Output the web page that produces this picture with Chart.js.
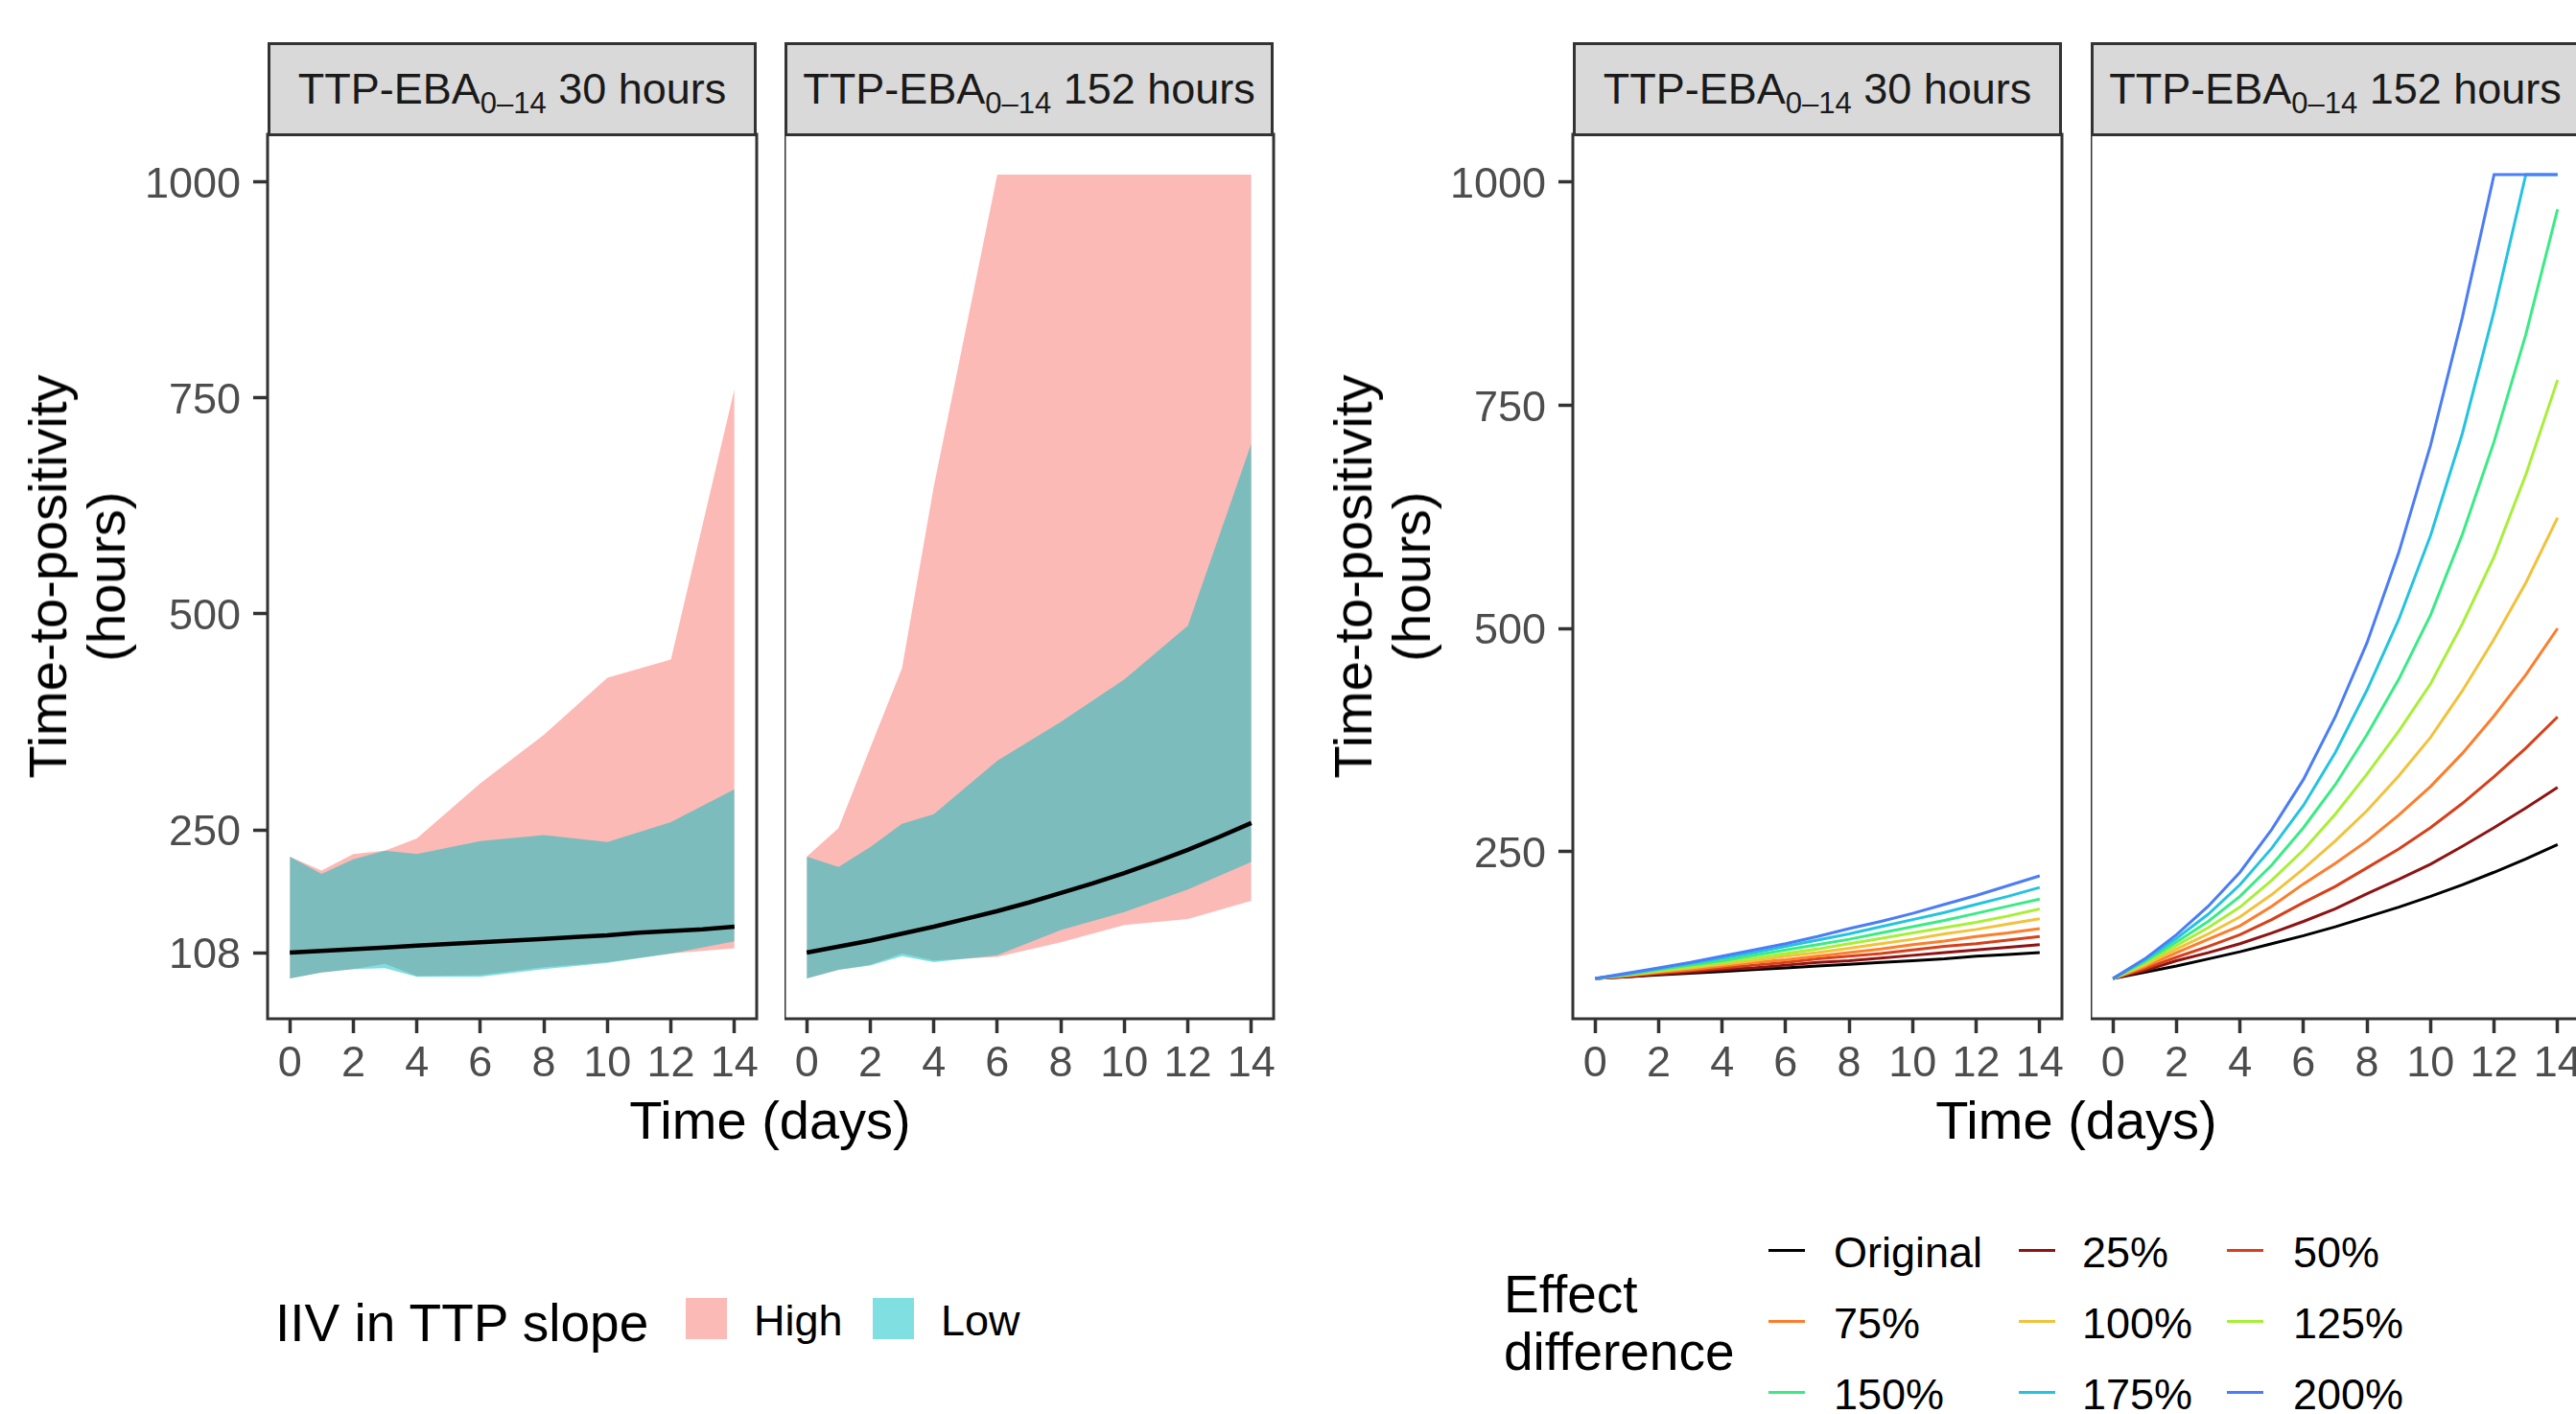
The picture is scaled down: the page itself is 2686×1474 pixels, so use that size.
<!DOCTYPE html>
<html>
<head>
<meta charset="utf-8">
<script src="https://cdn.jsdelivr.net/npm/chart.js@4.4.1/dist/chart.umd.min.js"></script>
<style>
  html, body { margin: 0; padding: 0; background: #fff; }
  #page { position: relative; width: 2686px; height: 1474px; overflow: hidden; font-family: "Liberation Sans", Arial, sans-serif; }
  canvas { position: absolute; }
  .strip { position: absolute; box-sizing: border-box; background: #D9D9D9; border: 3px solid #333333; color: #1A1A1A;
           font-size: 45px; text-align: center; white-space: nowrap; }
  .strip span { display: inline-block; }
  .strip sub { font-size: 31px; vertical-align: -0.33em; line-height: 0; }
  .txt { position: absolute; white-space: nowrap; color: #000; line-height: 1; }
  .ytitle { position: absolute; font-size: 56px; line-height: 61px; text-align: center; white-space: nowrap;
            transform: translate(-50%, -50%) rotate(-90deg); }
  .xtitle { position: absolute; font-size: 56px; line-height: 1; white-space: nowrap; transform: translateX(-50%); }
  .key { position: absolute; }
</style>
</head>
<body>
<div id="page">
  <canvas id="p1"></canvas>
  <canvas id="p2"></canvas>
  <canvas id="p3"></canvas>
  <canvas id="p4"></canvas>
</div>
<script>
// ---- data ----
const BAND_DAYS = [0, 1, 2, 3, 4, 6, 8, 10, 12, 14];
const LINE_DAYS = [0, 1, 2, 3, 4, 5, 6, 7, 8, 9, 10, 11, 12, 13, 14];
const X_TICKS = [0, 2, 4, 6, 8, 10, 12, 14];
const Y_TICKS_LEFT = [108, 250, 500, 750, 1000];
const Y_TICKS_RIGHT = [250, 500, 750, 1000];
const PANEL_NAMES = ['30 hours', '152 hours'];

// IIV in TTP slope, TTP-EBA 30 hours
const HIGH_LO_30 = [78, 85, 89, 95, 81, 82, 91, 97, 107, 113];
const HIGH_HI_30 = [219, 203, 222, 226, 240, 304, 360, 426, 447, 760];
const LOW_LO_30 = [78, 85, 89, 90, 80, 80, 89, 96, 107, 121];
const LOW_HI_30 = [219, 199, 216, 226, 222, 237, 244, 236, 259, 297];
const MEDIAN_30 = [108, 110, 112, 114, 116, 118, 120, 122, 124, 126, 128, 131, 133, 135, 138];

// IIV in TTP slope, TTP-EBA 152 hours
const HIGH_LO_152 = [78, 88, 94, 107, 99, 103, 120, 140, 147, 168];
const HIGH_HI_152 = [219, 252, 345, 437, 647, 1008, 1008, 1008, 1008, 1008];
const LOW_LO_152 = [78, 88, 93, 104, 97, 105, 134, 155, 181, 213];
const LOW_HI_152 = [219, 207, 230, 257, 268, 330, 375, 424, 486, 697];
const MEDIAN_152 = [108, 115, 122, 130, 138, 147, 156, 166, 177, 188, 200, 213, 227, 242, 258];

const IIV_LABELS = ['High', 'Low'];

// Effect difference lines
const EFFECT_LABELS = ['Original', '25%', '50%', '75%', '100%', '125%', '150%', '175%', '200%'];
const EFFECT_30 = [
  [108, 110, 112, 114, 116, 118, 120, 122, 124, 126, 128, 130, 133, 135, 137],
  [108, 110, 113, 115, 118, 120, 123, 126, 128, 131, 134, 137, 140, 143, 146],
  [108, 111, 114, 117, 120, 123, 126, 130, 133, 136, 140, 144, 147, 151, 155],
  [108, 111, 115, 118, 122, 126, 129, 133, 137, 141, 146, 150, 155, 159, 164],
  [108, 112, 116, 120, 124, 128, 133, 137, 142, 147, 152, 158, 163, 169, 175],
  [108, 112, 117, 121, 126, 131, 136, 141, 147, 153, 159, 165, 171, 178, 186],
  [108, 113, 118, 123, 128, 134, 140, 146, 152, 159, 166, 173, 181, 189, 197],
  [108, 113, 119, 125, 131, 137, 144, 151, 158, 166, 174, 182, 191, 200, 210],
  [108, 114, 120, 126, 133, 140, 147, 155, 164, 172, 181, 191, 201, 212, 223]
];
const EFFECT_152 = [
  [108, 115, 122, 130, 138, 147, 156, 166, 177, 188, 200, 213, 227, 242, 258],
  [108, 117, 128, 137, 147, 159, 172, 186, 203, 219, 236, 256, 277, 299, 322],
  [108, 119, 132, 144, 157, 174, 193, 211, 232, 253, 277, 304, 334, 366, 401],
  [108, 121, 137, 152, 167, 189, 214, 237, 262, 291, 323, 360, 402, 448, 500],
  [108, 123, 141, 158, 177, 202, 231, 262, 296, 335, 378, 430, 488, 551, 624],
  [108, 125, 145, 165, 188, 218, 252, 292, 337, 385, 438, 505, 580, 672, 778],
  [108, 127, 149, 172, 200, 235, 277, 325, 381, 443, 515, 605, 709, 829, 969],
  [108, 129, 153, 180, 213, 254, 302, 361, 431, 510, 604, 718, 855, 1008, 1008],
  [108, 130, 157, 189, 227, 275, 331, 401, 484, 585, 705, 848, 1008, 1008, 1008]
];

// ---- styles / layout ----
const FONT = '"Liberation Sans", Arial, sans-serif';
const PINK = 'rgba(248, 118, 109, 0.5)';
const TEAL = 'rgba(0, 191, 196, 0.5)';
const EFFECT_COLORS = ['#000000', '#8E1313', '#D6401A', '#FD7E2C', '#F2C23C', '#A8EF38', '#3AEB85', '#25C3E0', '#4A7DF6'];
const FRAME = '#333333';

const PLOT_TOP = 140, PLOT_W = 510, PLOT_H = 922;
const PAD_T = 60, PAD_R = 40, X_H = 90, Y_W = 150;
const LEFTS = [279, 818, 1640, 2180];

function pts(xs, ys) {
  return ys.map((y, i) => ({ x: xs[i], y: y }));
}

const panelBox = {
  id: 'panelBox',
  afterDraw(chart) {
    const { ctx, chartArea: a } = chart;
    ctx.save();
    ctx.strokeStyle = FRAME;
    ctx.lineWidth = 3;
    ctx.strokeRect(a.left, a.top, a.right - a.left, a.bottom - a.top);
    ctx.restore();
  }
};

function makePanel(idx, showY, yMin, yMax, yTicks, datasets) {
  const canvas = document.getElementById('p' + (idx + 1));
  const yW = showY ? Y_W : 0;
  canvas.width = yW + PLOT_W + PAD_R;
  canvas.height = PAD_T + PLOT_H + X_H;
  canvas.style.left = (LEFTS[idx] - yW) + 'px';
  canvas.style.top = (PLOT_TOP - PAD_T) + 'px';

  const tickGrid = {
    display: true,
    drawOnChartArea: false,
    drawTicks: true,
    tickLength: 15,
    tickWidth: 3.5,
    tickColor: FRAME
  };

  new Chart(canvas, {
    type: 'line',
    data: { datasets: datasets },
    options: {
      responsive: false,
      animation: false,
      layout: { padding: { top: PAD_T, right: PAD_R, left: 0, bottom: 0 } },
      elements: { point: { radius: 0 }, line: { tension: 0 } },
      plugins: {
        legend: { display: false },
        tooltip: { enabled: false },
        filler: { propagate: false }
      },
      scales: {
        x: {
          type: 'linear',
          min: -0.7,
          max: 14.7,
          afterBuildTicks: s => { s.ticks = X_TICKS.map(v => ({ value: v })); },
          afterFit: s => { s.height = X_H; },
          ticks: {
            autoSkip: false, maxRotation: 0, padding: 6,
            color: '#4D4D4D', font: { family: FONT, size: 45 },
            callback: v => String(v)
          },
          grid: tickGrid,
          border: { display: false }
        },
        y: {
          type: 'linear',
          display: showY,
          min: yMin,
          max: yMax,
          afterBuildTicks: s => { s.ticks = yTicks.map(v => ({ value: v })); },
          afterFit: s => { s.width = yW; },
          ticks: {
            autoSkip: false, padding: 13, labelOffset: 4,
            color: '#4D4D4D', font: { family: FONT, size: 45 },
            callback: v => String(v)
          },
          grid: tickGrid,
          border: { display: false }
        }
      }
    },
    plugins: [panelBox]
  });
}

function bandSets(hiLo, hiHi, loLo, loHi, median) {
  const none = 'rgba(0,0,0,0)';
  return [
    { label: 'High lower', data: pts(BAND_DAYS, hiLo), borderColor: none, borderWidth: 0, fill: false, order: 2 },
    { label: IIV_LABELS[0], data: pts(BAND_DAYS, hiHi), borderColor: none, borderWidth: 0, fill: '-1', backgroundColor: PINK, order: 2 },
    { label: 'Low lower', data: pts(BAND_DAYS, loLo), borderColor: none, borderWidth: 0, fill: false, order: 1 },
    { label: IIV_LABELS[1], data: pts(BAND_DAYS, loHi), borderColor: none, borderWidth: 0, fill: '-1', backgroundColor: TEAL, order: 1 },
    { label: 'Median', data: pts(LINE_DAYS, median), borderColor: '#000000', borderWidth: 4.5, fill: false, order: 0 }
  ];
}

function effectSets(rows) {
  return rows.map((row, i) => ({
    label: EFFECT_LABELS[i],
    data: pts(LINE_DAYS, row),
    borderColor: EFFECT_COLORS[i],
    borderWidth: 3,
    fill: false,
    order: rows.length - 1 - i
  }));
}

makePanel(0, true, 31.5, 1054.5, Y_TICKS_LEFT, bandSets(HIGH_LO_30, HIGH_HI_30, LOW_LO_30, LOW_HI_30, MEDIAN_30));
makePanel(1, false, 31.5, 1054.5, Y_TICKS_LEFT, bandSets(HIGH_LO_152, HIGH_HI_152, LOW_LO_152, LOW_HI_152, MEDIAN_152));
makePanel(2, true, 63, 1053, Y_TICKS_RIGHT, effectSets(EFFECT_30));
makePanel(3, false, 63, 1053, Y_TICKS_RIGHT, effectSets(EFFECT_152));

// ---- text: strips, axis titles, legends ----
const page = document.getElementById('page');
function add(cls, html, css) {
  const d = document.createElement('div');
  d.className = cls;
  d.innerHTML = html;
  Object.assign(d.style, css);
  page.appendChild(d);
  return d;
}

const STRIP_TOP = 44, STRIP_H = PLOT_TOP - STRIP_TOP + 2;
LEFTS.forEach((left, i) => {
  add('strip', '<span>TTP-EBA<sub>0–14</sub> ' + PANEL_NAMES[i % 2] + '</span>',
      { left: left + 'px', top: STRIP_TOP + 'px', width: PLOT_W + 'px', height: STRIP_H + 'px',
        lineHeight: (STRIP_H - 6) + 'px' });
});

add('ytitle', 'Time-to-positivity<br>(hours)', { left: '80px', top: '601px' });
add('ytitle', 'Time-to-positivity<br>(hours)', { left: '1441px', top: '601px' });
add('xtitle', 'Time (days)', { left: '803px', top: '1140px' });
add('xtitle', 'Time (days)', { left: '2165px', top: '1140px' });

// left legend
add('txt', 'IIV in TTP slope', { left: '287px', top: '1352px', fontSize: '55px' });
add('key', '', { left: '715px', top: '1353px', width: '43px', height: '43px', background: PINK });
add('txt', IIV_LABELS[0], { left: '786px', top: '1354px', fontSize: '45px' });
add('key', '', { left: '910px', top: '1353px', width: '43px', height: '43px', background: TEAL });
add('txt', IIV_LABELS[1], { left: '981px', top: '1354px', fontSize: '45px' });

// right legend
add('txt', 'Effect<br>difference', { left: '1568px', top: '1319px', fontSize: '55px', lineHeight: '60px' });
const KEY_X = [1844, 2105, 2322];
const LABEL_X = [1912, 2171, 2391];
const ROW_BASE = [1321, 1395, 1469];
EFFECT_LABELS.forEach((lab, i) => {
  const r = Math.floor(i / 3), c = i % 3;
  add('key', '', { left: KEY_X[c] + 'px', top: (ROW_BASE[r] - 19) + 'px', width: '38px', height: '3px', background: EFFECT_COLORS[i] });
  add('txt', lab, { left: LABEL_X[c] + 'px', top: (ROW_BASE[r] - 38) + 'px', fontSize: '45px' });
});
</script>
</body>
</html>
